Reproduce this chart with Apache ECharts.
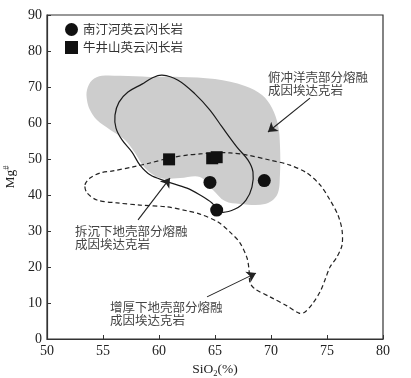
<!DOCTYPE html>
<html>
<head>
<meta charset="utf-8">
<script src="https://cdn.jsdelivr.net/npm/echarts@6/dist/echarts.min.js"></script>
<style>html,body{margin:0;padding:0;background:#fff}#c{width:411px;height:378px}</style>
</head>
<body>
<div id="c"></div>
<script>
// ---- data ----
const seriesNames = ['南汀河英云闪长岩', '牛井山英云闪长岩'];
const circlePts = [[65.15, 35.8], [64.55, 43.5], [69.4, 44.0]];
const squarePts = [[60.9, 49.9], [64.75, 50.2], [65.15, 50.5]];

// 俯冲洋壳部分熔融成因埃达克岩 field (grey)
const grayRegion = [
  [53.57, 69.2], [54.02, 71.9], [54.91, 73.1], [56.52, 73.1], [59.2, 72.8], [61.88, 72.8],
  [65.0, 72.2], [67.68, 70.3], [69.2, 67.8], [70.09, 64.2], [70.63, 59.4], [70.8, 53.9],
  [70.8, 45.6], [70.54, 40.0], [69.46, 37.5], [67.23, 37.5], [65.89, 38.3], [64.82, 41.4],
  [63.66, 45.0], [61.88, 44.7], [60.09, 44.7], [58.75, 47.5], [57.86, 51.7], [56.96, 55.3],
  [55.63, 58.1], [54.46, 60.8], [53.84, 63.6], [53.57, 66.4]
];
// 拆沉下地壳部分熔融成因埃达克岩 field (solid outline)
const solidRegion = [
  [60.27, 73.3], [61.7, 71.9], [63.21, 68.1], [64.55, 63.6], [65.63, 58.9], [66.96, 53.3],
  [67.95, 49.7], [68.39, 46.4], [68.3, 42.2], [67.77, 38.6], [66.79, 36.1], [65.45, 35.3],
  [64.73, 37.8], [63.66, 40.0], [62.5, 41.9], [60.54, 43.9], [59.2, 45.6], [58.3, 48.3],
  [57.59, 51.9], [56.7, 55.3], [56.16, 58.6], [56.07, 62.2], [56.43, 65.8], [57.23, 68.6],
  [58.48, 70.8], [59.38, 72.5]
];
// 增厚下地壳部分熔融成因埃达克岩 field (dashed outline)
const dashedRegion = [
  [53.39, 42.8], [53.84, 44.7], [54.73, 46.1], [55.89, 46.7], [57.68, 47.8], [59.2, 48.9],
  [60.98, 50.3], [62.5, 51.1], [63.66, 51.4], [64.82, 51.7], [66.34, 51.7], [67.86, 51.1],
  [69.91, 49.7], [71.7, 48.3], [73.21, 46.1], [74.38, 42.8], [75.27, 38.6], [75.98, 34.4],
  [76.34, 30.3], [76.34, 26.1], [75.89, 22.8], [75.27, 20.0], [74.82, 16.4], [74.38, 13.1],
  [73.75, 10.0], [73.04, 7.5], [72.5, 7.2], [71.43, 9.2], [69.91, 11.7], [68.57, 13.9],
  [68.13, 15.6], [68.04, 19.2], [67.86, 22.5], [67.23, 26.7], [66.34, 29.7], [65.27, 32.5],
  [63.66, 34.7], [62.5, 35.6], [60.71, 36.7], [58.3, 37.2], [56.25, 37.8], [54.46, 38.6],
  [53.57, 40.6]
];
// annotation arrows: [tail, head]
const arrows = [
  [[73.48, 66.9], [69.73, 57.5]],
  [[58.13, 33.1], [60.98, 44.7]],
  [[64.29, 11.7], [68.66, 18.3]]
];
// annotation texts: anchor (top-left) and two lines
const noteAnchors = [[69.73, 74.7], [52.5, 31.9], [55.63, 10.8]];
const noteTexts = [
  '俯冲洋壳部分熔融\n成因埃达克岩',
  '拆沉下地壳部分熔融\n成因埃达克岩',
  '增厚下地壳部分熔融\n成因埃达克岩'
];
const xTicks = {min: 50, max: 80, interval: 5};
const yTicks = {min: 0, max: 90, interval: 10};

// ---- chart ----
const serif = '"Liberation Serif","DejaVu Serif",serif';
const cjk = '"Noto Sans CJK SC","Noto Sans",sans-serif';

function polyRender(points, style, smooth) {
  return function (params, api) {
    if (params.dataIndex !== 0) return null;
    const pts = points.map(p => api.coord(p));
    return {type: 'polygon', shape: {points: pts, smooth: smooth}, style: style};
  };
}
function textRender(params, api) {
  const i = params.dataIndex;
  const p = api.coord(noteAnchors[i]);
  return {
    type: 'text', x: p[0], y: p[1],
    style: {text: noteTexts[i], fill: '#444', font: '12.5px ' + cjk, lineHeight: 13.5, align: 'left', verticalAlign: 'top'}
  };
}

const chart = echarts.init(document.getElementById('c'), null, {renderer: 'canvas'});
const axisCommon = {
  axisLine: {show: true, onZero: false, lineStyle: {color: '#333', width: 1.2}},
  axisTick: {show: true, inside: true, length: 4, lineStyle: {color: '#333', width: 1}},
  splitLine: {show: false}
};
chart.setOption({
  animation: false,
  grid: {left: 47, right: 28, top: 15, bottom: 39, containLabel: false, outerBoundsMode: 'none',
    show: true, borderColor: '#333', borderWidth: 1.2, backgroundColor: 'transparent'},
  legend: {
    orient: 'vertical', left: 60, top: 18, itemWidth: 13, itemHeight: 13, itemGap: 5, itemTextGap: 4,
    textStyle: {fontFamily: cjk, fontSize: 12.5, color: '#333'},
    data: [{name: seriesNames[0], icon: 'circle'}, {name: seriesNames[1], icon: 'rect'}]
  },
  xAxis: Object.assign({
    type: 'value', min: xTicks.min, max: xTicks.max, interval: xTicks.interval,
    name: '{a|SiO}{b|2}{a|(%)}', nameLocation: 'middle', nameGap: 20,
    nameTextStyle: {rich: {a: {fontFamily: serif, fontSize: 13.5, color: '#222'}, b: {fontFamily: serif, fontSize: 8.5, color: '#222', padding: [7, 0, 0, 0]}}},
    axisLabel: {color: '#222', fontFamily: serif, fontSize: 14, margin: 5}
  }, axisCommon),
  yAxis: Object.assign({
    type: 'value', min: yTicks.min, max: yTicks.max, interval: yTicks.interval,
    name: '{a|Mg}{b|#}', nameLocation: 'middle', nameGap: 21, nameRotate: 90,
    nameTextStyle: {rich: {a: {fontFamily: serif, fontSize: 13.5, color: '#222'}, b: {fontFamily: serif, fontSize: 8.5, color: '#222', padding: [0, 0, 7, 0]}}},
    axisLabel: {color: '#222', fontFamily: serif, fontSize: 14, margin: 5}
  }, axisCommon),
  series: [
    {type: 'custom', name: 'gray', silent: true, z: 1, data: grayRegion,
      renderItem: polyRender(grayRegion, {fill: '#cdcdcd', stroke: 'none'}, 0.35)},
    {type: 'custom', name: 'solid', silent: true, z: 2, data: solidRegion,
      renderItem: polyRender(solidRegion, {fill: 'none', stroke: '#1a1a1a', lineWidth: 1.2}, 0.35)},
    {type: 'custom', name: 'dashed', silent: true, z: 2, data: dashedRegion,
      renderItem: polyRender(dashedRegion, {fill: 'none', stroke: '#222', lineWidth: 1.2, lineDash: [4.5, 3]}, 0.3)},
    {type: 'lines', coordinateSystem: 'cartesian2d', silent: true, z: 3,
      symbol: ['none', 'arrow'], symbolSize: 9,
      lineStyle: {color: '#222', width: 1.1, opacity: 1},
      data: arrows.map(a => ({coords: a}))},
    {type: 'custom', name: 'notes', silent: true, z: 3, data: noteAnchors, renderItem: textRender},
    {type: 'scatter', name: seriesNames[0], symbol: 'circle', symbolSize: 13, z: 5,
      itemStyle: {color: '#111', opacity: 1}, data: circlePts},
    {type: 'scatter', name: seriesNames[1], symbol: 'rect', symbolSize: 12, z: 5,
      itemStyle: {color: '#111', opacity: 1}, data: squarePts}
  ]
});
</script>
</body>
</html>
